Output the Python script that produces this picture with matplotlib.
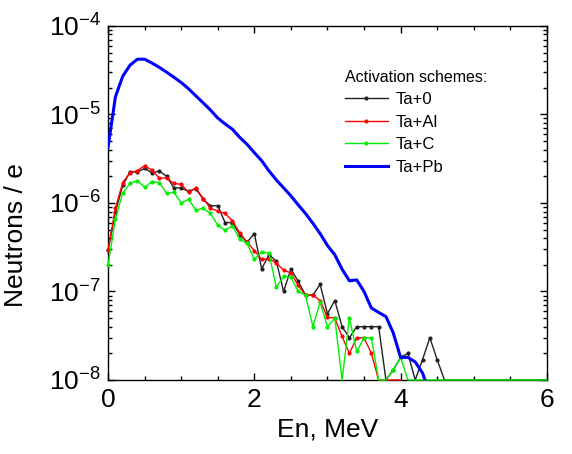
import numpy as np
import matplotlib
matplotlib.use('Agg')
import matplotlib.pyplot as plt
from matplotlib.ticker import LogLocator, MultipleLocator, FixedLocator, FuncFormatter, NullFormatter

plt.rcParams['font.family'] = ['Liberation Sans', 'DejaVu Sans']
plt.rcParams['mathtext.default'] = 'regular'

FLOOR = 1e-8

# neutron yield per electron, 0.1 MeV bins starting at 0 MeV
ta_0 = [2.95e-7, 7.9e-7, 1.58e-6, 2.24e-6, 2.24e-6, 2.45e-6, 2.19e-6, 2.29e-6, 2.0e-6, 1.48e-6,
        1.48e-6, 1.35e-6, 1.45e-6, 1.10e-6, 9.3e-7, 9.3e-7, 6.0e-7, 6.0e-7, 4.4e-7, 3.6e-7,
        4.5e-7, 1.8e-7, 2.6e-7, 2.2e-7, 1.0e-7, 1.8e-7, 1.3e-7, 9.1e-8, 9.1e-8, 1.2e-7,
        5.6e-8, 7.9e-8, 4.0e-8, 3.0e-8, 4.0e-8, 4.0e-8, 4.0e-8, 4.0e-8, FLOOR, 1.3e-8,
        1.8e-8, 2.0e-8, FLOOR, 1.7e-8, 3.0e-8, 1.7e-8, FLOOR, FLOOR, FLOOR, FLOOR,
        FLOOR, FLOOR, FLOOR, FLOOR, FLOOR, FLOOR, FLOOR, FLOOR, FLOOR, FLOOR, FLOOR]

ta_al = [2.95e-7, 8.7e-7, 1.70e-6, 2.19e-6, 2.32e-6, 2.63e-6, 2.34e-6, 1.91e-6, 1.91e-6, 1.66e-6,
         1.62e-6, 1.32e-6, 1.48e-6, 1.12e-6, 8.7e-7, 8.1e-7, 7.6e-7, 6.3e-7, 4.6e-7, 3.6e-7,
         2.9e-7, 2.3e-7, 2.35e-7, 2.1e-7, 1.74e-7, 1.62e-7, 1.17e-7, 9.1e-8, 9.1e-8, 7.9e-8,
         5.1e-8, 5.0e-8, 3.1e-8, 2.0e-8, 3.0e-8, 3.0e-8, 2.0e-8, FLOOR, FLOOR, FLOOR, FLOOR]

ta_c = [2.0e-7, 6.6e-7, 1.29e-6, 1.66e-6, 1.78e-6, 1.51e-6, 1.74e-6, 1.70e-6, 1.29e-6, 1.32e-6,
        1.0e-6, 1.10e-6, 8.3e-7, 8.7e-7, 7.6e-7, 5.6e-7, 4.9e-7, 5.5e-7, 3.9e-7, 3.5e-7,
        2.3e-7, 2.8e-7, 2.7e-7, 1.12e-7, 1.48e-7, 1.45e-7, 1.0e-7, 9.1e-8, 4.0e-8, 7.6e-8,
        4.0e-8, 5.0e-8, FLOOR, 5.0e-8, 2.1e-8, 3.0e-8, 3.0e-8, FLOOR, FLOOR, 1.3e-8,
        1.8e-8, FLOOR, FLOOR, FLOOR, FLOOR, FLOOR, FLOOR, FLOOR, FLOOR, FLOOR,
        FLOOR, FLOOR, FLOOR, FLOOR, FLOOR, FLOOR, FLOOR, FLOOR, FLOOR, FLOOR, FLOOR]

ta_pb = [4.3e-6, 1.58e-5, 2.7e-5, 3.6e-5, 4.2e-5, 4.2e-5, 3.8e-5, 3.4e-5, 3.0e-5, 2.63e-5,
         2.29e-5, 1.95e-5, 1.62e-5, 1.35e-5, 1.12e-5, 9.1e-6, 7.8e-6, 6.8e-6, 5.5e-6, 4.6e-6,
         3.7e-6, 3.0e-6, 2.3e-6, 1.82e-6, 1.48e-6, 1.20e-6, 9.5e-7, 7.6e-7, 5.9e-7, 4.5e-7,
         3.3e-7, 2.6e-7, 1.78e-7, 1.32e-7, 1.35e-7, 1.0e-7, 6.5e-8, 5.8e-8, 5.2e-8, 3.4e-8,
         1.8e-8, 1.8e-8, 1.6e-8, 1.2e-8, 7e-9]

def energies(vals):
    return np.arange(len(vals)) * 0.1

def above_floor(vals):
    return [i for i, v in enumerate(vals) if v > FLOOR]

fig = plt.figure(figsize=(5.72, 4.54), dpi=100)
ax = fig.add_axes([0.189, 0.163, 0.767, 0.780])

for vals, col, lab in [(ta_0, '#222222', 'Ta+0'), (ta_al, '#ff0000', 'Ta+Al'), (ta_c, '#00ee00', 'Ta+C')]:
    ax.plot(energies(vals), vals, color=col, lw=1.0, marker='o', ms=3.0, mew=0,
            markevery=above_floor(vals), label=lab, clip_on=False, zorder=3)
ax.plot(energies(ta_pb), ta_pb, color='#0000ff', lw=2.2, label='Ta+Pb', zorder=4)

ax.set_yscale('log')
ax.set_xlim(0, 6)
ax.set_ylim(1e-8, 1e-4)

ax.xaxis.set_major_locator(MultipleLocator(2))
ax.xaxis.set_minor_locator(MultipleLocator(0.5))
ax.yaxis.set_major_locator(FixedLocator([1e-8, 1e-7, 1e-6, 1e-5, 1e-4]))
ax.yaxis.set_minor_locator(LogLocator(base=10, subs=np.arange(2, 10), numticks=20))
ax.yaxis.set_minor_formatter(NullFormatter())
ax.yaxis.set_major_formatter(FuncFormatter(lambda v, p: r'10$^{%d}$' % int(round(np.log10(v)))))

ax.tick_params(which='both', direction='in', top=True, right=True, labelsize=19, width=1)
ax.tick_params(which='major', length=5)
ax.tick_params(which='minor', length=3)
ax.tick_params(axis='x', pad=6)
ax.tick_params(axis='y', pad=5)
for s in ax.spines.values():
    s.set_linewidth(1.0)

ax.set_xlabel('En, MeV', fontsize=19)
ax.set_ylabel('Neutrons / e', fontsize=19)
ax.yaxis.set_label_coords(-0.182, 0.41)

leg = ax.legend(title='Activation schemes:', loc='upper left', bbox_to_anchor=(0.52, 0.9),
                frameon=False, fontsize=12, title_fontsize=11.5, numpoints=1,
                handlelength=2.6, handletextpad=0.45, labelspacing=0.45, borderpad=0)
leg._legend_box.align = 'left'

fig.savefig('out.png', dpi=100)
